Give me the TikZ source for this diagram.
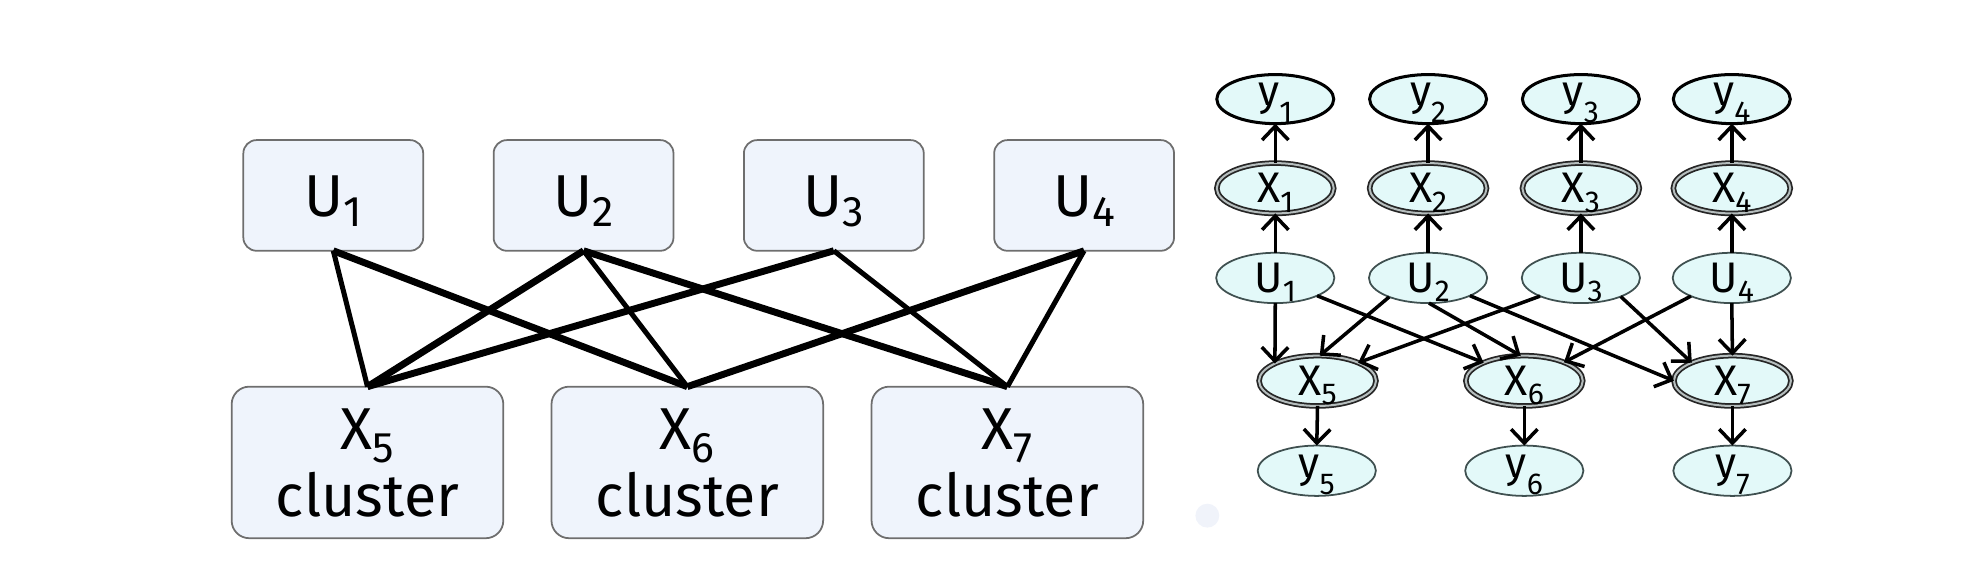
\documentclass[tikz,border=0pt]{standalone}
\usepackage{fontspec}
\setmainfont{Fira Sans}
\usetikzlibrary{arrows.meta,shapes.geometric}
\definecolor{boxfill}{HTML}{EFF4FC}
\definecolor{boxdraw}{HTML}{6E6E6E}
\definecolor{ellfill}{HTML}{E3F9F9}
\definecolor{elldraw}{HTML}{3F5050}
\definecolor{gapcol}{HTML}{B5BDBD}
\definecolor{dotcol}{HTML}{F0F3FA}
\newcommand\subL[1]{{\fontsize{34}{34}\selectfont #1}}
\newcommand\subR[1]{{\fontsize{24}{24}\selectfont #1}}
\newcommand\ulab[2]{\makebox[0pt][c]{\smash{\raisebox{-17pt}{#1}\raisebox{-25pt}{\subL{#2}}}}}
\newcommand\clab[1]{\makebox[0pt][c]{\smash{\raisebox{10pt}{X}\raisebox{0pt}{\subL{#1}}}}\makebox[0pt][c]{\smash{\raisebox{-43pt}{cluster}}}}
\newcommand\rlab[3]{\makebox[0pt][c]{\smash{\raisebox{#3}{#1}\raisebox{-19pt}{\subR{#2}}}}}
\begin{document}
\begin{tikzpicture}[x=1pt,y=1pt,
  ubox/.style={draw=boxdraw, line width=1.4pt, fill=boxfill, rounded corners=10.5pt,
    minimum width=143pt, minimum height=88pt, inner sep=0pt, outer sep=0pt,
    font=\fontsize{47}{47}\selectfont},
  cbox/.style={ubox, minimum width=216pt, minimum height=120.5pt, rounded corners=14pt},
  thickl/.style={line width=5.5pt},
  thinl/.style={line width=4pt},
  rell/.style={ellipse, fill=ellfill, inner sep=0pt, outer sep=0pt,
    font=\fontsize{34}{34}\selectfont},
  yblk/.style={rell, draw=black, line width=2.4pt, minimum width=93pt, minimum height=39pt},
  ugry/.style={rell, draw=elldraw, line width=1.4pt, minimum width=94pt, minimum height=40pt},
  xdbl/.style={rell, draw=black!85, line width=1.4pt, double=gapcol, double distance=1.6pt,
    minimum width=93pt, minimum height=40pt},
  arr/.style={line width=2.8pt, -{Straight Barb[length=11pt,width=21pt]}}
]
\path[use as bounding box] (0,0) rectangle (1568,-467.5);

% ---------- left diagram ----------
\node[ubox] (LU1) at (265,-155.4) {\ulab{U}{1}};
\node[ubox] (LU2) at (464,-155.4) {\ulab{U}{2}};
\node[ubox] (LU3) at (663,-155.4) {\ulab{U}{3}};
\node[ubox] (LU4) at (862,-155.4) {\ulab{U}{4}};
\node[cbox] (LX5) at (292.2,-367.7) {\clab{5}};
\node[cbox] (LX6) at (546.5,-367.7) {\clab{6}};
\node[cbox] (LX7) at (801,-367.7) {\clab{7}};

\draw[thinl]  (LU1.south) -- (LX5.north);
\draw[thickl] (LU1.south) -- (LX6.north);
\draw[thickl] (LU2.south) -- (LX5.north);
\draw[thinl]  (LU2.south) -- (LX6.north);
\draw[thickl] (LU2.south) -- (LX7.north);
\draw[thickl] (LU3.south) -- (LX5.north);
\draw[thinl]  (LU3.south) -- (LX7.north);
\draw[thickl] (LU4.south) -- (LX6.north);
\draw[thinl]  (LU4.south) -- (LX7.north);

\fill[dotcol] (960,-410) circle (9.5);

% ---------- right diagram ----------
\node[yblk] (Y1) at (1014,-78.8)   {\rlab{y}{1}{-5pt}};
\node[yblk] (Y2) at (1135.5,-78.8) {\rlab{y}{2}{-5pt}};
\node[yblk] (Y3) at (1257,-78.8)   {\rlab{y}{3}{-5pt}};
\node[yblk] (Y4) at (1377,-78.8)   {\rlab{y}{4}{-5pt}};
\node[xdbl] (X1) at (1014,-149.7)   {\rlab{X}{1}{-11.5pt}};
\node[xdbl] (X2) at (1135.5,-149.7) {\rlab{X}{2}{-11.5pt}};
\node[xdbl] (X3) at (1257,-149.7)   {\rlab{X}{3}{-11.5pt}};
\node[xdbl] (X4) at (1377,-149.7)   {\rlab{X}{4}{-11.5pt}};
\node[ugry] (U1) at (1014,-221)   {\rlab{U}{1}{-11.5pt}};
\node[ugry] (U2) at (1135.5,-221) {\rlab{U}{2}{-11.5pt}};
\node[ugry] (U3) at (1257,-221)   {\rlab{U}{3}{-11.5pt}};
\node[ugry] (U4) at (1377,-221)   {\rlab{U}{4}{-11.5pt}};
\node[xdbl] (X5) at (1047.6,-302.8) {\rlab{X}{5}{-11.5pt}};
\node[xdbl] (X6) at (1212,-302.8)   {\rlab{X}{6}{-11.5pt}};
\node[xdbl] (X7) at (1377.5,-302.8) {\rlab{X}{7}{-11.5pt}};
\node[ugry] (Y5) at (1047,-374.3)   {\rlab{y}{5}{-5pt}};
\node[ugry] (Y6) at (1212,-374.3)   {\rlab{y}{6}{-5pt}};
\node[ugry] (Y7) at (1377.5,-374.3) {\rlab{y}{7}{-5pt}};

\foreach \i in {1,2,3,4}{
  \draw[arr] (U\i.north) -- (X\i.south);
  \draw[arr] (X\i.north) -- (Y\i.south);
}
\draw[arr] (U1.south) -- (X5.158);
\draw[arr] (U1.-23)   -- (X6.156);
\draw[arr] (U2.-154)  -- (X5.85);
\draw[arr] (U2.-88)   -- (X6.98);
\draw[arr] (U2.-23)   -- (X7.west);
\draw[arr] (U3.-156)  -- (X5.24);
\draw[arr] (U3.-25)   -- (X7.156);
\draw[arr] (U4.-156)  -- (X6.25);
\draw[arr] (U4.south) -- (X7.north);
\foreach \i in {5,6,7}{
  \draw[arr] (X\i.south) -- (Y\i.north);
}
\end{tikzpicture}
\end{document}
